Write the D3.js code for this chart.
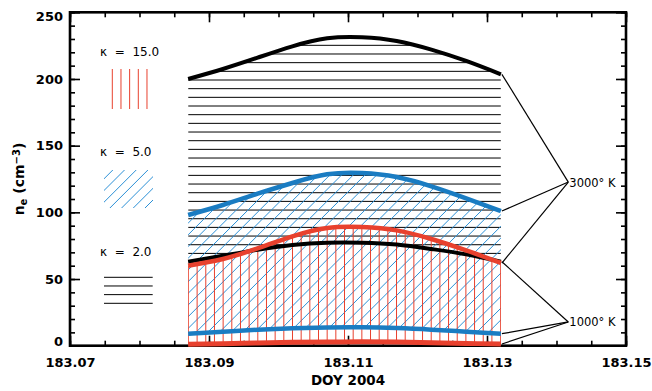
<!DOCTYPE html>
<html>
<head>
<meta charset="utf-8">
<script src="https://cdn.jsdelivr.net/npm/d3@7"></script>
<style>
body { margin: 0; background: #fff; }
svg { display: block; }
text { font-family: "DejaVu Sans", sans-serif; }
</style>
</head>
<body>
<div class="container"></div>
<script>
// time axis (DOY 2004) and density curves, cm^-3
var doy = [183.087, 183.092, 183.097, 183.102, 183.107, 183.112, 183.117, 183.122, 183.127, 183.132];
var k2_3000 = [200, 207.5, 216, 224.5, 230.5, 231.3, 228.5, 222, 213.5, 203.5];
var k2_1000 = [63, 67.5, 72, 75.5, 77.2, 77.2, 75.8, 72.5, 68.5, 63];
var k5_3000 = [98, 105.5, 114, 122, 128.5, 129.5, 126.5, 119.5, 110.5, 101];
var k5_1000 = [9, 10.5, 12, 13.1, 13.7, 13.8, 13.2, 12, 10.5, 9];
var k15_3000 = [60, 65, 73, 82, 88.3, 89, 86.5, 80, 71.5, 62];
var k15_1000 = [1, 1.5, 2, 2.5, 2.8, 2.9, 2.7, 2.2, 1.7, 1.3];

var xTicks = [183.07, 183.09, 183.11, 183.13, 183.15];
var yTicks = [0, 50, 100, 150, 200, 250];
var kappaLabels = ["κ = 15.0", "κ = 5.0", "κ = 2.0"];
var tempLabels = ["3000° K", "1000° K"];

var W = 652, H = 391;
var blue = "#1a7cc2", red = "#e8412e";

function makeStage(width, height) {
    var stage = d3.select(".container")
    .insert("svg")
    .attr("width", width)
    .attr("height", height);
    return stage;
}

var svg = makeStage(W, H);
var defs = svg.append("defs");

var x = d3.scaleLinear().domain([183.07, 183.15]).range([70, 626]);
var y = d3.scaleLinear().domain([0, 250]).range([345.7, 12.3]);

// axes, ticks pointing inward
function minorVals(lo, hi, step) {
    return d3.range(Math.round((hi - lo) / step) + 1).map(function(i) { return lo + i * step; });
}
var xMinor = minorVals(183.07, 183.15, 0.005);
var yMinor = minorVals(0, 250, 10);

var axes = svg.append("g").attr("class", "axes");

axes.append("g").attr("transform", "translate(0," + y(0) + ")")
    .call(d3.axisBottom(x).tickValues(xTicks).tickSize(-10).tickSizeOuter(0).tickPadding(12).tickFormat(d3.format(".2f")));
axes.append("g").attr("transform", "translate(0," + y(0) + ")")
    .call(d3.axisBottom(x).tickValues(xMinor).tickSize(-5).tickSizeOuter(0).tickFormat(""));
axes.append("g").attr("transform", "translate(0," + y(250) + ")")
    .call(d3.axisTop(x).tickValues(xTicks).tickSize(-10).tickSizeOuter(0).tickFormat(""));
axes.append("g").attr("transform", "translate(0," + y(250) + ")")
    .call(d3.axisTop(x).tickValues(xMinor).tickSize(-5).tickSizeOuter(0).tickFormat(""));

var left = axes.append("g").attr("transform", "translate(" + x(183.07) + ",0)")
    .call(d3.axisLeft(y).tickValues(yTicks).tickSize(-10).tickSizeOuter(0).tickPadding(7));
axes.append("g").attr("transform", "translate(" + x(183.07) + ",0)")
    .call(d3.axisLeft(y).tickValues(yMinor).tickSize(-5).tickSizeOuter(0).tickFormat(""));
axes.append("g").attr("transform", "translate(" + x(183.15) + ",0)")
    .call(d3.axisRight(y).tickValues(yTicks).tickSize(-10).tickSizeOuter(0).tickFormat(""));
axes.append("g").attr("transform", "translate(" + x(183.15) + ",0)")
    .call(d3.axisRight(y).tickValues(yMinor).tickSize(-5).tickSizeOuter(0).tickFormat(""));

axes.selectAll(".domain").remove();
axes.selectAll(".tick line").attr("stroke", "#000").attr("stroke-width", 1.6);
axes.selectAll("text").attr("fill", "#000")
    .style("font-family", "DejaVu Sans").style("font-weight", "bold").style("font-size", "13px");
// keep end labels inside the frame like the original
left.selectAll(".tick text").attr("dy", function(d) {
    if (d == 250) return "0.66em";
    if (d == 0) return "0.02em";
    return "0.32em";
});

axes.append("rect")
    .attr("x", x(183.07)).attr("y", y(250))
    .attr("width", x(183.15) - x(183.07)).attr("height", y(0) - y(250))
    .attr("fill", "none").attr("stroke", "#000").attr("stroke-width", 2.6);

// axis titles
svg.append("text")
    .attr("x", x(183.11)).attr("y", 385)
    .attr("text-anchor", "middle")
    .style("font-weight", "bold").style("font-size", "13.5px")
    .text("DOY 2004");

var ytitle = svg.append("text")
    .attr("transform", "translate(24,179) rotate(-90)")
    .attr("text-anchor", "middle")
    .style("font-weight", "bold").style("font-size", "14px");
ytitle.append("tspan").text("n");
ytitle.append("tspan").attr("baseline-shift", "-25%").style("font-size", "10px").text("e");
ytitle.append("tspan").text("  (cm");
ytitle.append("tspan").attr("baseline-shift", "40%").style("font-size", "10px").text("−3");
ytitle.append("tspan").text(")");

// hatch helpers
var clipCount = 0;
function clipWith(shape) {
    var id = "clip" + (clipCount++);
    var cp = defs.append("clipPath").attr("id", id);
    shape(cp);
    return "url(#" + id + ")";
}

function drawHatch(g, kind, x0, x1, y0, y1, color) {
    var sp = 8.67;
    if (kind == "v") {
        for (var xx = x0; xx <= x1 + 0.5; xx += sp) {
            g.append("line").attr("x1", xx).attr("x2", xx).attr("y1", y0).attr("y2", y1)
                .attr("stroke", color).attr("stroke-width", 1);
        }
    } else if (kind == "h") {
        for (var yy = y0; yy <= y1 + 0.5; yy += sp) {
            g.append("line").attr("x1", x0).attr("x2", x1).attr("y1", yy).attr("y2", yy)
                .attr("stroke", color).attr("stroke-width", 1);
        }
    } else {
        // "/" diagonal, horizontal spacing 11.7
        var hs = 11.7;
        for (var c = x0 + y0 - (y1 - y0) - 2 * hs; c <= x1 + y1 + hs; c += hs) {
            g.append("line").attr("x1", c - y1).attr("y1", y1).attr("x2", c - y0).attr("y2", y0)
                .attr("stroke", color).attr("stroke-width", 1);
        }
    }
}

var smooth = d3.curveNatural;

function bandArea(lo, hi) {
    var pts = doy.map(function(d, i) { return { t: d, lo: lo[i], hi: hi[i] }; });
    return d3.area().curve(smooth)
        .x(function(d) { return x(d.t); })
        .y0(function(d) { return y(d.lo); })
        .y1(function(d) { return y(d.hi); })(pts);
}

function curvePath(vals) {
    return d3.line().curve(smooth)
        .x(function(d, i) { return x(doy[i]); })
        .y(function(d) { return y(d); })(vals);
}

var xs = x(doy[0]), xe = x(doy[doy.length - 1]);

// kappa = 2 : horizontal lines
var g2 = svg.append("g").attr("clip-path", clipWith(function(cp) { cp.append("path").attr("d", bandArea(k2_1000, k2_3000)); }));
drawHatch(g2, "h", xs, xe, 80 - 8.67 * 8, 300, "#000");

// kappa = 5 : diagonal lines
var g5 = svg.append("g").attr("clip-path", clipWith(function(cp) { cp.append("path").attr("d", bandArea(k5_1000, k5_3000)); }));
drawHatch(g5, "d", xs, xe, 150, 346, "#2a8fd6");

// kappa = 15 : vertical lines
var g15 = svg.append("g").attr("clip-path", clipWith(function(cp) { cp.append("path").attr("d", bandArea(k15_1000, k15_3000)); }));
drawHatch(g15, "v", xs + 0.3, xe, 200, 350, red);

// curves
var curves = [
    { v: k2_3000, c: "#000", w: 4 },
    { v: k2_1000, c: "#000", w: 4 },
    { v: k5_3000, c: blue, w: 4.5 },
    { v: k5_1000, c: blue, w: 4.5 },
    { v: k15_3000, c: red, w: 4.5 },
    { v: k15_1000, c: red, w: 5 }
];
svg.append("g").selectAll("path").data(curves).enter().append("path")
    .attr("d", function(d) { return curvePath(d.v); })
    .attr("fill", "none")
    .attr("stroke", function(d) { return d.c; })
    .attr("stroke-width", function(d) { return d.w; });

// temperature annotations
var last = doy.length - 1;
var anchors = [
    { t: 183.1417, v: 122.7, label: tempLabels[0], ends: [k2_3000[last], k5_3000[last], k15_3000[last]] },
    { t: 183.1417, v: 17.8, label: tempLabels[1], ends: [k2_1000[last], k5_1000[last], k15_1000[last]] }
];
anchors.forEach(function(a) {
    a.ends.forEach(function(e) {
        svg.append("line")
            .attr("x1", xe + 1).attr("y1", y(e))
            .attr("x2", x(a.t)).attr("y2", y(a.v))
            .attr("stroke", "#000").attr("stroke-width", 1.2);
    });
    svg.append("text")
        .attr("x", x(a.t) + 1).attr("y", y(a.v) + 4.5)
        .style("font-size", "11.5px")
        .text(a.label);
});

// legend
var leg = svg.append("g");
var legY = [56, 156, 256];
kappaLabels.forEach(function(t, i) {
    leg.append("text").attr("x", 100).attr("y", legY[i])
        .style("font-size", "12px").style("white-space", "pre")
        .text(t.replace(/ /g, "  "));
});
drawHatch(leg, "v", 112.3, 147, 69, 109, red);
var gl5 = leg.append("g").attr("clip-path", clipWith(function(cp) {
    cp.append("rect").attr("x", 104).attr("y", 170).attr("width", 49).attr("height", 38);
}));
drawHatch(gl5, "d", 104, 153, 170, 208, "#2a8fd6");
drawHatch(leg, "h", 104, 152.7, 277.3, 304, "#000");
</script>
</body>
</html>
